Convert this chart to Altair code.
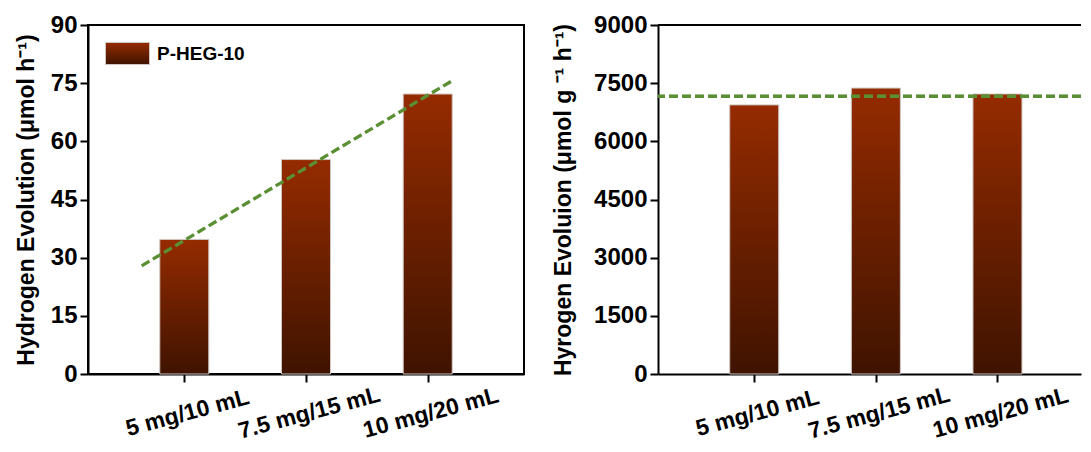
import altair as alt
import pandas as pd

# ---- data -------------------------------------------------------------
categories = ["5 mg/10 mL", "7.5 mg/15 mL", "10 mg/20 mL"]
series_name = "P-HEG-10"
rate_umol_h = [34.7, 55.3, 72.2]          # left panel, µmol h-1
rate_umol_g_h = [6940, 7373, 7220]        # right panel, µmol g-1 h-1
trend_pos = [0.65, 3.21]                  # dashed trend line ends (category index)
trend_umol_h = [27.9, 75.8]
mean_umol_g_h = 7160                      # dashed average level, right panel
left_ticks = [0, 7.5, 15, 22.5, 30, 37.5, 45, 52.5, 60, 67.5, 75, 82.5, 90]
right_ticks = [0, 750, 1500, 2250, 3000, 3750, 4500, 5250, 6000, 6750, 7500, 8250, 9000]

# ---- styling ----------------------------------------------------------
FONT = "Liberation Sans"
GREEN = "#5b8f34"
TOP_COLOR, BOTTOM_COLOR = "#952b00", "#3f1300"
BAR_FILL = {
    "gradient": "linear", "x1": 0, "y1": 0, "x2": 0, "y2": 1,
    "stops": [{"offset": 0, "color": TOP_COLOR}, {"offset": 1, "color": BOTTOM_COLOR}],
}
# same gradient written as a Vega expression, for the legend swatch
BAR_FILL_EXPR = (
    "{gradient: 'linear', x1: 0, y1: 0, x2: 0, y2: 1, stops: ["
    f"{{offset: 0, color: '{TOP_COLOR}'}}, {{offset: 1, color: '{BOTTOM_COLOR}'}}]}}"
)
STEP_PX = 436 / 3.5   # pixels per category
PLOT_H = 349

pos = list(range(1, len(categories) + 1))
label_expr = "[''," + ",".join(f"'{c}'" for c in categories) + "][datum.value]"


def x_axis():
    return alt.Axis(
        values=pos, labelExpr=label_expr, title=None, grid=False,
        labelAngle=-15, labelAlign="center", labelBaseline="top",
        labelFont=FONT, labelFontSize=23, labelFontWeight="bold", labelColor="black",
        labelPadding=20, labelOverlap=False,
        tickSize=8, tickWidth=2, tickColor="black",
        domainWidth=2, domainColor="black",
    )


def y_axis(title, ticks, major, title_pad):
    return alt.Axis(
        values=ticks, format="d", title=title, grid=False,
        labelExpr=f"datum.value % {major} === 0 ? datum.label : ''",
        labelFont=FONT, labelFontSize=24, labelFontWeight="bold", labelColor="black",
        labelPadding=3, labelOverlap=False,
        tickSize={"condition": {"test": f"datum.value % {major} === 0", "value": 8}, "value": 4},
        tickWidth=2, tickColor="black", domainWidth=2, domainColor="black",
        titleFont=FONT, titleFontSize=23, titleFontWeight="bold", titleColor="black",
        titlePadding=title_pad,
    )


def legend(x, y):
    return alt.Legend(
        title=None, orient="none", legendX=x, legendY=y, padding=0,
        symbolType="M-1,-0.5H1V0.5H-1Z", symbolSize=1936, symbolStrokeWidth=1,
        symbolFillColor={"expr": BAR_FILL_EXPR}, symbolOpacity=1,
        labelFont=FONT, labelFontSize=19, labelFontWeight="bold", labelColor="black",
        labelOffset=7,
    )


def bar_layer(df, y_title, ticks, major, title_pad, y_max, x_max, leg_xy):
    return alt.Chart(df).mark_bar(fill=BAR_FILL, size=49, strokeWidth=1).encode(
        x=alt.X("pos:Q", scale=alt.Scale(domain=[0.25, x_max], nice=False, zero=False), axis=x_axis()),
        y=alt.Y("value:Q", scale=alt.Scale(domain=[0, y_max], nice=False),
                axis=y_axis(y_title, ticks, major, title_pad)),
        stroke=alt.Stroke("series:N", scale=alt.Scale(range=["#cfc6c2"]), legend=legend(*leg_xy)),
    )


# ---- left panel: absolute rate -----------------------------------------
left_df = pd.DataFrame({"pos": pos, "value": rate_umol_h, "series": series_name})
trend_df = pd.DataFrame({"pos": trend_pos, "value": trend_umol_h})

left_bars = bar_layer(left_df, "Hydrogen Evolution (μmol h⁻¹)", left_ticks, 15, 12, 90, 3.75, (17, 6))
left_trend = alt.Chart(trend_df).mark_line(color=GREEN, strokeDash=[9, 4], strokeWidth=3.3).encode(
    x="pos:Q", y="value:Q"
)
left = alt.layer(left_bars, left_trend).properties(
    width=436, height=PLOT_H,
    view=alt.ViewBackground(stroke="black", strokeWidth=2),
)

# ---- right panel: mass-normalised rate ---------------------------------
right_width = 423
right_df = pd.DataFrame({"pos": pos, "value": rate_umol_g_h, "series": series_name})
right_bars = bar_layer(right_df, "Hyrogen Evoluion (μmol g ⁻¹ h⁻¹)", right_ticks, 1500, 18, 9000,
                       0.25 + right_width / STEP_PX, (16, 2))
right_mean = alt.Chart(right_df).mark_rule(color=GREEN, strokeDash=[9, 4], strokeWidth=3.3).encode(
    y=alt.datum(mean_umol_g_h)
)
right_frame = alt.Chart(right_df).mark_rule(color="black", strokeWidth=2).encode(y=alt.datum(9000))
right = alt.layer(right_bars, right_mean, right_frame).properties(
    width=right_width, height=PLOT_H,
    view=alt.ViewBackground(strokeOpacity=0),
)

chart = alt.hconcat(left, right, spacing=27).properties(
    padding={"left": 14, "top": 12, "right": 0, "bottom": 0},
    background="white",
).configure_view(strokeWidth=2)

chart.save("out.html", embed_options={"renderer": "svg", "actions": False})
